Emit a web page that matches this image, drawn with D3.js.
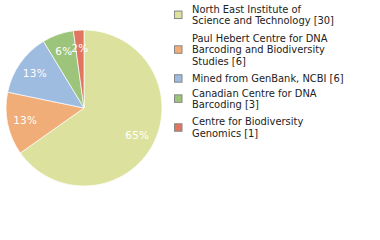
<!DOCTYPE html>
<html><head><meta charset="utf-8">
<script src="https://cdn.jsdelivr.net/npm/d3@7"></script>
<style>body{margin:0;background:#fff}svg{display:block}</style>
</head><body>
<svg id="c" width="380" height="240"></svg>
<script>
const categories = [
  ["North East Institute of", "Science and Technology [30]"],
  ["Paul Hebert Centre for DNA", "Barcoding and Biodiversity", "Studies [6]"],
  ["Mined from GenBank, NCBI [6]"],
  ["Canadian Centre for DNA", "Barcoding [3]"],
  ["Centre for Biodiversity", "Genomics [1]"]
];
const values = [30, 6, 6, 3, 1];
const labels = ["65%", "13%", "13%", "6%", "2%"];
const colors = ["#dce29e", "#f0ad78", "#9ebbe0", "#9cc47a", "#e07560"];

const svg = d3.select("#c");
const cx = 84, cy = 108, R = 78;
const pie = d3.pie().sort(null).value(d => d)(values);
const arc = d3.arc().innerRadius(0).outerRadius(R);
const larc = d3.arc().innerRadius(60).outerRadius(60);
const g = svg.append("g").attr("transform", `translate(${cx},${cy})`);
g.selectAll("path").data(pie).join("path")
  .attr("d", arc).attr("fill", (d, i) => colors[i])
  .attr("stroke", "#fff").attr("stroke-width", 0.7);
g.selectAll("text").data(pie).join("text")
  .attr("transform", d => `translate(${larc.centroid(d)})`)
  .attr("text-anchor", "middle").attr("dy", "0.35em")
  .attr("fill", "#fff").attr("font-family", "DejaVu Sans").attr("font-size", 10.5)
  .attr("letter-spacing", 0.3)
  .text((d, i) => labels[i]);

const lg = svg.append("g");
const lh = 11.7;
let y = 12.7;
categories.forEach((lines, i) => {
  const n = lines.length;
  const mid = y + (n - 1) * lh / 2;
  lg.append("rect").attr("x", 174.5).attr("y", mid - 7.5).attr("width", 7.5).attr("height", 7.5)
    .attr("fill", colors[i]).attr("stroke", "#888").attr("stroke-width", 1);
  const t = lg.append("text").attr("font-family", "DejaVu Sans Condensed, DejaVu Sans").attr("font-size", 11).attr("fill", "#222");
  lines.forEach((s, j) => t.append("tspan").attr("x", 192).attr("y", y + j * lh).text(s));
  y += n * lh + (n > 1 ? 5.5 : 2.6);
});
</script>
</body></html>
